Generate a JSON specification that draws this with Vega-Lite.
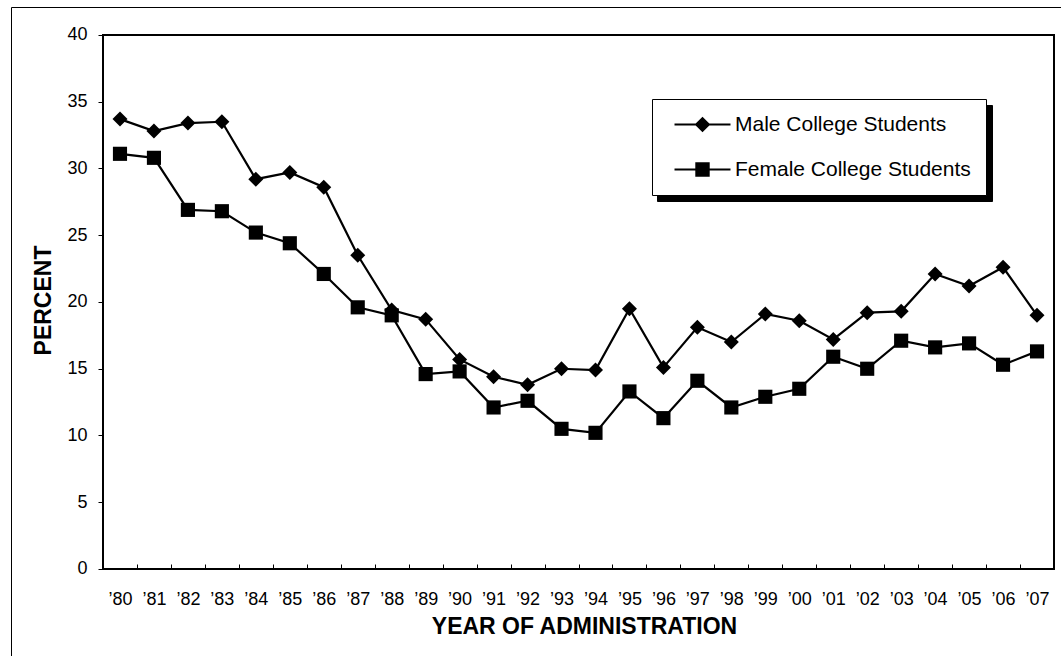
{
  "$schema": "https://vega.github.io/schema/vega-lite/v6.json",
  "width": 1050,
  "height": 649,
  "autosize": {"type": "none"},
  "padding": {"left": 11, "top": 7, "right": 0, "bottom": 0},
  "background": "white",
  "config": {"view": {"stroke": null}, "font": "Liberation Sans", "axis": {"grid": false}},
  "data": {"values": [
    {"series": "Male College Students", "year": 1980, "value": 33.7},
    {"series": "Male College Students", "year": 1981, "value": 32.8},
    {"series": "Male College Students", "year": 1982, "value": 33.4},
    {"series": "Male College Students", "year": 1983, "value": 33.5},
    {"series": "Male College Students", "year": 1984, "value": 29.2},
    {"series": "Male College Students", "year": 1985, "value": 29.7},
    {"series": "Male College Students", "year": 1986, "value": 28.6},
    {"series": "Male College Students", "year": 1987, "value": 23.5},
    {"series": "Male College Students", "year": 1988, "value": 19.4},
    {"series": "Male College Students", "year": 1989, "value": 18.7},
    {"series": "Male College Students", "year": 1990, "value": 15.7},
    {"series": "Male College Students", "year": 1991, "value": 14.4},
    {"series": "Male College Students", "year": 1992, "value": 13.8},
    {"series": "Male College Students", "year": 1993, "value": 15.0},
    {"series": "Male College Students", "year": 1994, "value": 14.9},
    {"series": "Male College Students", "year": 1995, "value": 19.5},
    {"series": "Male College Students", "year": 1996, "value": 15.1},
    {"series": "Male College Students", "year": 1997, "value": 18.1},
    {"series": "Male College Students", "year": 1998, "value": 17.0},
    {"series": "Male College Students", "year": 1999, "value": 19.1},
    {"series": "Male College Students", "year": 2000, "value": 18.6},
    {"series": "Male College Students", "year": 2001, "value": 17.2},
    {"series": "Male College Students", "year": 2002, "value": 19.2},
    {"series": "Male College Students", "year": 2003, "value": 19.3},
    {"series": "Male College Students", "year": 2004, "value": 22.1},
    {"series": "Male College Students", "year": 2005, "value": 21.2},
    {"series": "Male College Students", "year": 2006, "value": 22.6},
    {"series": "Male College Students", "year": 2007, "value": 19.0},
    {"series": "Female College Students", "year": 1980, "value": 31.1},
    {"series": "Female College Students", "year": 1981, "value": 30.8},
    {"series": "Female College Students", "year": 1982, "value": 26.9},
    {"series": "Female College Students", "year": 1983, "value": 26.8},
    {"series": "Female College Students", "year": 1984, "value": 25.2},
    {"series": "Female College Students", "year": 1985, "value": 24.4},
    {"series": "Female College Students", "year": 1986, "value": 22.1},
    {"series": "Female College Students", "year": 1987, "value": 19.6},
    {"series": "Female College Students", "year": 1988, "value": 19.0},
    {"series": "Female College Students", "year": 1989, "value": 14.6},
    {"series": "Female College Students", "year": 1990, "value": 14.8},
    {"series": "Female College Students", "year": 1991, "value": 12.1},
    {"series": "Female College Students", "year": 1992, "value": 12.6},
    {"series": "Female College Students", "year": 1993, "value": 10.5},
    {"series": "Female College Students", "year": 1994, "value": 10.2},
    {"series": "Female College Students", "year": 1995, "value": 13.3},
    {"series": "Female College Students", "year": 1996, "value": 11.3},
    {"series": "Female College Students", "year": 1997, "value": 14.1},
    {"series": "Female College Students", "year": 1998, "value": 12.1},
    {"series": "Female College Students", "year": 1999, "value": 12.9},
    {"series": "Female College Students", "year": 2000, "value": 13.5},
    {"series": "Female College Students", "year": 2001, "value": 15.9},
    {"series": "Female College Students", "year": 2002, "value": 15.0},
    {"series": "Female College Students", "year": 2003, "value": 17.1},
    {"series": "Female College Students", "year": 2004, "value": 16.6},
    {"series": "Female College Students", "year": 2005, "value": 16.9},
    {"series": "Female College Students", "year": 2006, "value": 15.3},
    {"series": "Female College Students", "year": 2007, "value": 16.3}
  ]},
  "resolve": {"axis": {"x": "independent", "y": "independent"}},
  "layer": [
    {
      "data": {"values": [{"frame": "plot"}]},
      "mark": {"type": "rect", "filled": false, "stroke": "black", "strokeWidth": 2},
      "encoding": {
        "x": {"datum": 1979.5, "type": "quantitative",
              "scale": {"domain": [1976.7912, 2007.7061], "nice": false, "zero": false},
              "axis": {"orient": "top", "domain": true, "domainColor": "black", "domainWidth": 1, "ticks": false, "labels": false, "title": null}},
        "x2": {"datum": 2007.5},
        "y": {"datum": 0, "type": "quantitative",
              "scale": {"domain": [-6.517, 42.097], "nice": false, "zero": false},
              "axis": {"orient": "left", "domain": true, "domainColor": "black", "domainWidth": 1, "ticks": false, "labels": false, "title": null}},
        "y2": {"datum": 40}
      }
    },
    {
      "mark": {"type": "line", "stroke": "black", "strokeWidth": 2.2},
      "encoding": {
        "x": {"field": "year", "type": "quantitative",
              "scale": {"domain": [1976.7912, 2007.7061], "nice": false, "zero": false},
              "axis": {"orient": "bottom", "offset": -87, "domain": false, "ticks": false,
                       "values": [1980,1981,1982,1983,1984,1985,1986,1987,1988,1989,1990,1991,1992,1993,1994,1995,1996,1997,1998,1999,2000,2001,2002,2003,2004,2005,2006,2007],
                       "labelExpr": "'’' + substring(toString(datum.value), 2, 4)",
                       "labelFontSize": 18, "labelColor": "black", "labelPadding": 21, "labelFlush": false, "labelOverlap": false,
                       "title": "YEAR OF ADMINISTRATION", "titleFontSize": 23, "titleFontWeight": "bold", "titleColor": "black",
                       "titleX": 573, "titleY": 64, "titleBaseline": "alphabetic", "titleAlign": "center"}},
        "y": {"field": "value", "type": "quantitative",
              "scale": {"domain": [-6.517, 42.097], "nice": false, "zero": false},
              "axis": {"orient": "left", "offset": -92, "domain": false, "values": [0,5,10,15,20,25,30,35,40],
                       "tickSize": 5, "tickColor": "black", "tickWidth": 1,
                       "labelFontSize": 18, "labelColor": "black", "labelPadding": 11,
                       "title": "PERCENT", "titleFontSize": 23, "titleFontWeight": "bold", "titleColor": "black",
                       "titleX": -53, "titleY": 293, "titleBaseline": "alphabetic", "titleAlign": "center", "titleAngle": 270}},
        "detail": {"field": "series", "type": "nominal"}
      }
    },
    {
      "transform": [{"filter": "datum.series === 'Male College Students'"}],
      "mark": {"type": "point", "shape": "diamond", "filled": true, "fill": "black", "opacity": 1, "strokeWidth": 0, "size": 225},
      "encoding": {
        "x": {"field": "year", "type": "quantitative",
              "scale": {"domain": [1976.7912, 2007.7061], "nice": false, "zero": false},
              "axis": {"orient": "bottom", "offset": -87, "domain": false, "labels": false, "title": null,
                       "values": [1980.5,1981.5,1982.5,1983.5,1984.5,1985.5,1986.5,1987.5,1988.5,1989.5,1990.5,1991.5,1992.5,1993.5,1994.5,1995.5,1996.5,1997.5,1998.5,1999.5,2000.5,2001.5,2002.5,2003.5,2004.5,2005.5,2006.5],
                       "tickSize": -5, "tickColor": "black", "tickWidth": 1}},
        "y": {"field": "value", "type": "quantitative",
              "scale": {"domain": [-6.517, 42.097], "nice": false, "zero": false},
              "axis": null}
      }
    },
    {
      "transform": [{"filter": "datum.series === 'Female College Students'"}],
      "mark": {"type": "point", "shape": "square", "filled": true, "fill": "black", "opacity": 1, "strokeWidth": 0, "size": 200},
      "encoding": {
        "x": {"field": "year", "type": "quantitative",
              "scale": {"domain": [1976.7912, 2007.7061], "nice": false, "zero": false},
              "axis": null},
        "y": {"field": "value", "type": "quantitative",
              "scale": {"domain": [-6.517, 42.097], "nice": false, "zero": false},
              "axis": null}
      }
    },
    {
      "transform": [{"filter": "false"}],
      "mark": {"type": "point", "filled": true, "fill": "black", "opacity": 1},
      "encoding": {
        "fill": {"field": "series", "type": "nominal",
                 "scale": {"domain": ["Female College Students", "Male College Students"], "range": ["black", "black"]},
                 "legend": {"orient": "none", "legendX": 646, "legendY": 98, "title": null,
                            "fillColor": "black", "strokeColor": "black",
                            "padding": 15, "rowPadding": 23,
                            "labelExpr": "' '",
                            "labelFontSize": 21, "labelColor": "black", "labelFont": "Liberation Sans", "labelOffset": 259, "labelLimit": 400,
                            "symbolSize": 324, "symbolStrokeWidth": 0, "symbolOffset": 25,
                            "symbolType": "M-3.11,-0.11H3.11V0.11H-3.11ZM-0.8,-0.8H0.8V0.8H-0.8Z"}}
      }
    },
    {
      "transform": [{"filter": "false"}],
      "mark": {"type": "point", "filled": true, "fill": "black", "opacity": 1},
      "encoding": {
        "shape": {"field": "series", "type": "nominal",
                  "scale": {"domain": ["Male College Students", "Female College Students"],
                            "range": ["M-3.11,-0.11H3.11V0.11H-3.11ZM0,-0.87L0.87,0L0,0.87L-0.87,0Z", "M-3.11,-0.11H3.11V0.11H-3.11ZM-0.8,-0.8H0.8V0.8H-0.8Z"]},
                  "legend": {"orient": "none", "legendX": 641, "legendY": 92, "title": null,
                             "fillColor": "white", "strokeColor": "black",
                             "padding": 15, "rowPadding": 23,
                             "labelFontSize": 21, "labelColor": "black", "labelFont": "Liberation Sans", "labelOffset": 22, "labelLimit": 400,
                             "symbolSize": 324, "symbolStrokeWidth": 0, "symbolFillColor": "black", "symbolOpacity": 1, "symbolOffset": 25,
                             "encode": {"legend": {"update": {"strokeWidth": {"value": 1.5}}}}}}
      }
    }
  ]
}
